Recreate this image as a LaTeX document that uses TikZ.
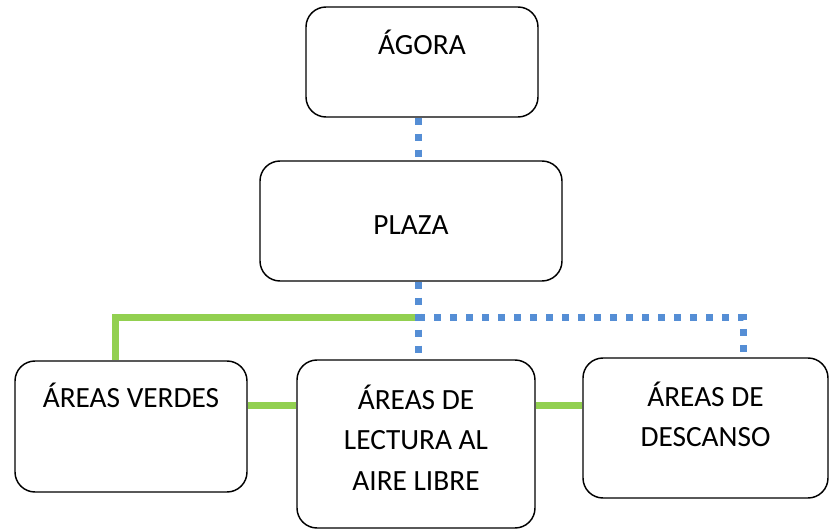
\documentclass[tikz,border=0pt]{standalone}
\usepackage{fontspec}
\setmainfont{Carlito}
\usepackage{tikz}
\usetikzlibrary{positioning}
\definecolor{verdeLinea}{HTML}{92D050}
\definecolor{azulLinea}{HTML}{558ED5}

\begin{document}
\begin{tikzpicture}[x=0.75pt,y=-0.75pt,
			caja/.style={rectangle, draw=black, line width=1.1pt, fill=white, rounded corners=15pt},
			texto/.style={anchor=north, align=center, inner sep=0pt, text=black, font=\fontsize{22}{30.4}\selectfont},
			punteada/.style={draw=azulLinea, line width=5.25pt, dash pattern=on 5.25pt off 6.75pt},
			verde/.style={draw=verdeLinea, line width=5.25pt}]
			\useasboundingbox (0,0) rectangle (829,531);
			
			\node[caja,minimum width=174pt,minimum height=82.5pt,label={[texto,yshift=-17.25pt]north:ÁGORA}] (agora) at (422,62) {};
			\node[caja,minimum width=226.5pt,minimum height=90pt,label={[texto,yshift=-41.25pt]north:PLAZA}] (plaza) at (411,221) {};
			\node[caja,minimum width=174pt,minimum height=98.25pt,label={[texto,yshift=-16.5pt]north:ÁREAS VERDES}] (verdes) at (131,426.5) {};
			\node[caja,minimum width=178.5pt,minimum height=126pt,label={[texto,yshift=-18.75pt]north:ÁREAS DE\\LECTURA AL\\AIRE LIBRE}] (lectura) at (416,444) {};
			\node[caja,minimum width=183.75pt,minimum height=105pt,label={[texto,yshift=-18pt]north:ÁREAS DE\\DESCANSO}] (descanso) at (705.5,428) {};
			
			\coordinate (cruce) at (418,318);
			\coordinate (esquina) at (743,318);
			\coordinate (izquierda) at (115,318);
			\coordinate (nivel) at (0,405);
			
			%% lineas verdes
			\draw[verde] (cruce) -- (izquierda) -- (verdes.north -| izquierda);
			\path
			(verdes.east |- nivel) edge [verde] (lectura.west |- nivel)
			(lectura.east |- nivel) edge [verde] (descanso.west |- nivel);
			
			%% lineas punteadas
			\path
			(agora.south -| cruce) edge [punteada] (plaza.north -| cruce)
			(plaza.south -| cruce) edge [punteada] (lectura.north -| cruce);
			\draw[punteada] (cruce) -- (esquina) -- (descanso.north -| esquina);
			
		\end{tikzpicture}
\end{document}
